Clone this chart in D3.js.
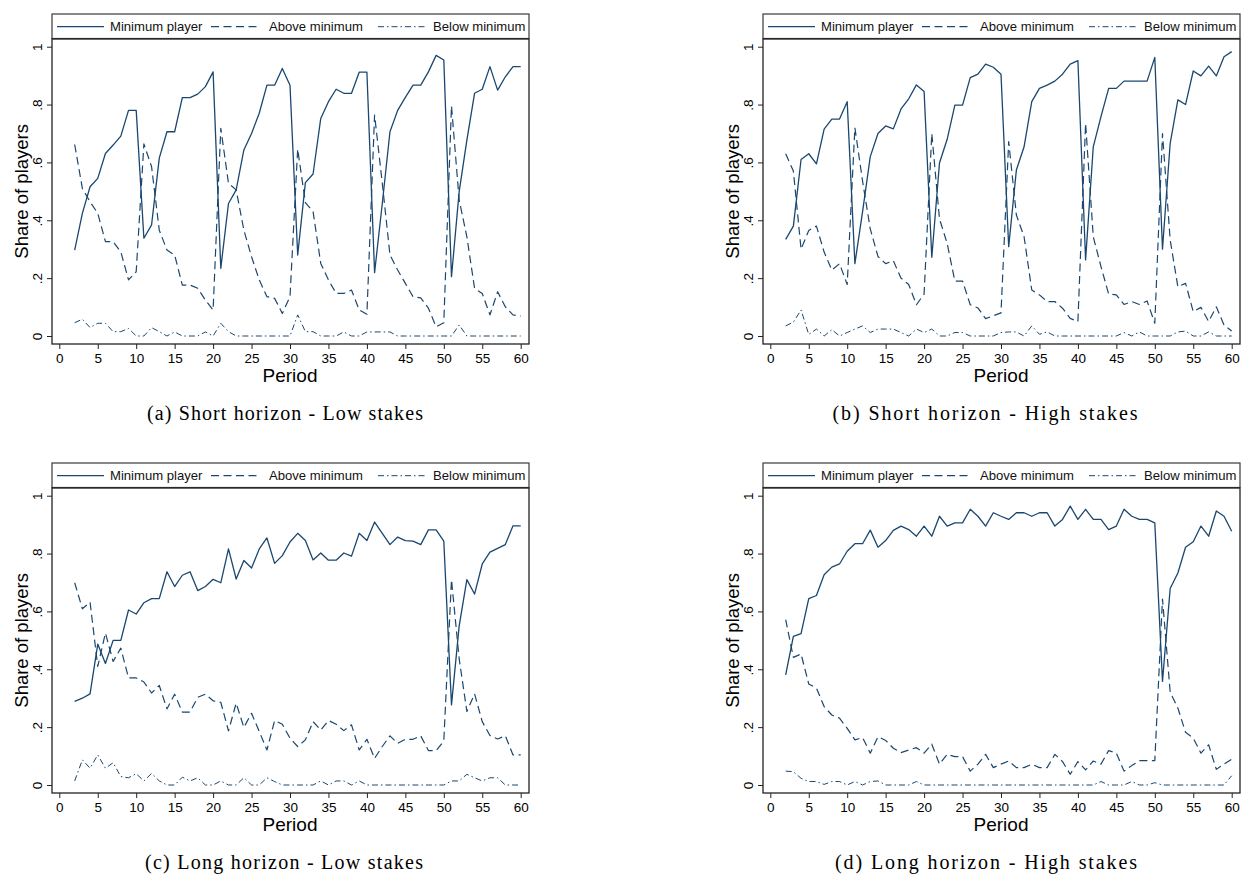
<!DOCTYPE html>
<html>
<head>
<meta charset="utf-8">
<script src="https://cdn.jsdelivr.net/npm/d3@7"></script>
<style>
  body { margin: 0; background: #fff; }
  .tick text { font-family: "Liberation Sans", Arial, sans-serif; font-size: 13.5px; fill: #000; }
  .axis-title { font-family: "Liberation Sans", Arial, sans-serif; fill: #000; }
  .legend-text { font-family: "Liberation Sans", Arial, sans-serif; font-size: 13.1px; fill: #111; }
  .caption { font-family: "Liberation Serif", "DejaVu Serif", serif; font-size: 20px; fill: #000; }
</style>
</head>
<body>
<div class="chart-div"></div>
<script>
// periods on the x axis
const periods = [2, 3, 4, 5, 6, 7, 8, 9, 10, 11, 12, 13, 14, 15, 16, 17, 18, 19, 20,
  21, 22, 23, 24, 25, 26, 27, 28, 29, 30, 31, 32, 33, 34, 35, 36, 37, 38, 39, 40,
  41, 42, 43, 44, 45, 46, 47, 48, 49, 50, 51, 52, 53, 54, 55, 56, 57, 58, 59, 60];

const xTicks = [0, 5, 10, 15, 20, 25, 30, 35, 40, 45, 50, 55, 60];
const yTicks = [0, 0.2, 0.4, 0.6, 0.8, 1];
const yTickLabels = ["0", ".2", ".4", ".6", ".8", "1"];
const seriesNames = ["Minimum player", "Above minimum", "Below minimum"];

// (a) short horizon - low stakes
const shortLowMin = [0.297, 0.424, 0.516, 0.545, 0.631, 0.660, 0.691, 0.780, 0.780,
  0.338, 0.384, 0.615, 0.706, 0.706, 0.824, 0.824, 0.836, 0.862, 0.913,
  0.234, 0.458, 0.505, 0.643, 0.700, 0.770, 0.867, 0.867, 0.925, 0.867,
  0.280, 0.530, 0.560, 0.752, 0.810, 0.853, 0.839, 0.839, 0.912, 0.912,
  0.219, 0.458, 0.706, 0.780, 0.825, 0.867, 0.867, 0.913, 0.970, 0.954,
  0.205, 0.499, 0.677, 0.839, 0.853, 0.931, 0.850, 0.896, 0.931, 0.931];
const shortLowAbove = [0.662, 0.510, 0.464, 0.424, 0.326, 0.326, 0.291, 0.194, 0.222,
  0.664, 0.585, 0.366, 0.297, 0.280, 0.176, 0.176, 0.165, 0.124, 0.090,
  0.718, 0.528, 0.505, 0.366, 0.274, 0.194, 0.136, 0.130, 0.078, 0.136,
  0.646, 0.461, 0.430, 0.251, 0.194, 0.147, 0.147, 0.159, 0.090, 0.075,
  0.764, 0.528, 0.280, 0.228, 0.182, 0.136, 0.132, 0.096, 0.032, 0.046,
  0.795, 0.470, 0.343, 0.165, 0.147, 0.073, 0.153, 0.101, 0.073, 0.069];
const shortLowBelow = [0.046, 0.058, 0.029, 0.044, 0.044, 0.015, 0.015, 0.026, 0.000,
  0.000, 0.029, 0.015, 0.000, 0.014, 0.000, 0.000, 0.000, 0.014, 0.000,
  0.044, 0.015, 0.000, 0.000, 0.000, 0.000, 0.000, 0.000, 0.000, 0.000,
  0.073, 0.015, 0.015, 0.000, 0.000, 0.000, 0.014, 0.000, 0.000, 0.014,
  0.014, 0.014, 0.014, 0.000, 0.000, 0.000, 0.000, 0.000, 0.000, 0.000,
  0.000, 0.038, 0.000, 0.000, 0.000, 0.000, 0.000, 0.000, 0.000, 0.000];

// (b) short horizon - high stakes
const shortHighMin = [0.334, 0.380, 0.610, 0.630, 0.595, 0.715, 0.750, 0.750, 0.810,
  0.250, 0.430, 0.620, 0.700, 0.726, 0.716, 0.785, 0.820, 0.868, 0.845,
  0.272, 0.598, 0.680, 0.798, 0.798, 0.893, 0.905, 0.940, 0.929, 0.905,
  0.309, 0.574, 0.654, 0.810, 0.856, 0.867, 0.881, 0.905, 0.940, 0.952,
  0.263, 0.654, 0.758, 0.856, 0.856, 0.881, 0.881, 0.881, 0.881, 0.963,
  0.300, 0.666, 0.816, 0.800, 0.916, 0.899, 0.933, 0.899, 0.965, 0.983];
const shortHighAbove = [0.630, 0.570, 0.300, 0.365, 0.380, 0.290, 0.228, 0.250, 0.178,
  0.720, 0.535, 0.370, 0.275, 0.250, 0.260, 0.200, 0.178, 0.108, 0.145,
  0.700, 0.405, 0.320, 0.190, 0.190, 0.108, 0.097, 0.060, 0.070, 0.080,
  0.672, 0.418, 0.343, 0.159, 0.142, 0.119, 0.119, 0.096, 0.061, 0.050,
  0.735, 0.343, 0.240, 0.145, 0.142, 0.109, 0.119, 0.109, 0.121, 0.044,
  0.700, 0.332, 0.170, 0.182, 0.084, 0.099, 0.050, 0.101, 0.038, 0.017];
const shortHighBelow = [0.035, 0.048, 0.090, 0.005, 0.024, 0.000, 0.022, 0.000, 0.012,
  0.024, 0.035, 0.012, 0.024, 0.024, 0.024, 0.012, 0.000, 0.024, 0.012,
  0.024, 0.000, 0.000, 0.012, 0.012, 0.000, 0.000, 0.000, 0.000, 0.012,
  0.014, 0.014, 0.000, 0.035, 0.006, 0.014, 0.000, 0.000, 0.000, 0.000,
  0.000, 0.000, 0.000, 0.000, 0.000, 0.012, 0.000, 0.014, 0.000, 0.000,
  0.000, 0.000, 0.014, 0.017, 0.000, 0.000, 0.014, 0.000, 0.000, 0.000];

// (c) long horizon - low stakes
const longLowMin = [0.289, 0.300, 0.315, 0.487, 0.420, 0.500, 0.500, 0.605, 0.591,
  0.630, 0.644, 0.644, 0.737, 0.686, 0.725, 0.737, 0.672, 0.686, 0.711,
  0.699, 0.816, 0.712, 0.776, 0.750, 0.816, 0.854, 0.766, 0.793, 0.840,
  0.870, 0.845, 0.778, 0.802, 0.777, 0.777, 0.802, 0.791, 0.870, 0.845,
  0.909, 0.870, 0.831, 0.857, 0.845, 0.843, 0.831, 0.882, 0.882, 0.843,
  0.277, 0.550, 0.710, 0.660, 0.764, 0.805, 0.818, 0.831, 0.896, 0.896];
const longLowAbove = [0.699, 0.609, 0.632, 0.410, 0.525, 0.427, 0.473, 0.370, 0.370,
  0.356, 0.318, 0.344, 0.263, 0.314, 0.252, 0.252, 0.303, 0.314, 0.291,
  0.286, 0.187, 0.283, 0.199, 0.248, 0.185, 0.121, 0.223, 0.210, 0.162,
  0.133, 0.156, 0.219, 0.190, 0.223, 0.210, 0.188, 0.208, 0.121, 0.158,
  0.092, 0.133, 0.170, 0.144, 0.158, 0.158, 0.170, 0.119, 0.119, 0.152,
  0.710, 0.436, 0.254, 0.315, 0.219, 0.171, 0.159, 0.170, 0.104, 0.104];
const longLowBelow = [0.014, 0.087, 0.058, 0.104, 0.058, 0.077, 0.029, 0.025, 0.039,
  0.014, 0.040, 0.014, 0.000, 0.000, 0.027, 0.014, 0.025, 0.000, 0.000,
  0.014, 0.000, 0.000, 0.025, 0.000, 0.000, 0.025, 0.012, 0.000, 0.000,
  0.000, 0.000, 0.000, 0.014, 0.000, 0.014, 0.014, 0.000, 0.014, 0.000,
  0.000, 0.000, 0.000, 0.000, 0.000, 0.000, 0.000, 0.000, 0.000, 0.000,
  0.014, 0.014, 0.037, 0.025, 0.014, 0.025, 0.025, 0.000, 0.000, 0.000];

// (d) long horizon - high stakes
const longHighMin = [0.381, 0.514, 0.523, 0.644, 0.655, 0.727, 0.753, 0.764, 0.808,
  0.834, 0.834, 0.881, 0.822, 0.845, 0.880, 0.895, 0.883, 0.860, 0.895,
  0.860, 0.929, 0.895, 0.906, 0.906, 0.953, 0.929, 0.895, 0.941, 0.929,
  0.918, 0.941, 0.941, 0.929, 0.941, 0.941, 0.895, 0.918, 0.964, 0.918,
  0.953, 0.918, 0.918, 0.883, 0.895, 0.953, 0.929, 0.918, 0.918, 0.906,
  0.358, 0.679, 0.733, 0.822, 0.841, 0.895, 0.860, 0.947, 0.929, 0.877];
const longHighAbove = [0.572, 0.441, 0.453, 0.349, 0.335, 0.271, 0.242, 0.231, 0.196,
  0.156, 0.164, 0.110, 0.167, 0.154, 0.127, 0.112, 0.121, 0.129, 0.110,
  0.141, 0.072, 0.106, 0.098, 0.098, 0.048, 0.072, 0.106, 0.060, 0.072,
  0.083, 0.060, 0.060, 0.072, 0.060, 0.060, 0.106, 0.081, 0.037, 0.081,
  0.052, 0.083, 0.072, 0.119, 0.110, 0.048, 0.067, 0.084, 0.084, 0.084,
  0.643, 0.321, 0.266, 0.182, 0.162, 0.110, 0.139, 0.054, 0.072, 0.089];
const longHighBelow = [0.048, 0.046, 0.023, 0.012, 0.012, 0.002, 0.012, 0.012, 0.000,
  0.012, 0.000, 0.012, 0.014, 0.000, 0.000, 0.000, 0.000, 0.012, 0.000,
  0.000, 0.000, 0.000, 0.000, 0.000, 0.000, 0.000, 0.000, 0.000, 0.000,
  0.000, 0.000, 0.000, 0.000, 0.000, 0.000, 0.000, 0.000, 0.000, 0.000,
  0.000, 0.000, 0.012, 0.000, 0.000, 0.000, 0.012, 0.000, 0.000, 0.008,
  0.000, 0.000, 0.000, 0.000, 0.000, 0.000, 0.000, 0.000, 0.000, 0.032];

const captions = [
  "(a) Short horizon - Low stakes",
  "(b) Short horizon - High stakes",
  "(c) Long horizon - Low stakes",
  "(d) Long horizon - High stakes"
];

// panel placement and look
const panels = [
  { dx: 0, dy: 0, capX: 285, capW: 276, series: [shortLowMin, shortLowAbove, shortLowBelow] },
  { dx: 711, dy: 0, capX: 985, capW: 305, series: [shortHighMin, shortHighAbove, shortHighBelow] },
  { dx: 0, dy: 449, capX: 284, capW: 278, series: [longLowMin, longLowAbove, longLowBelow] },
  { dx: 711, dy: 449, capX: 986, capW: 302, series: [longHighMin, longHighAbove, longHighBelow] }
];
const lineColor = "#1a476f";
const dashes = [null, "8,4.5", "6,3,1.5,3"];
const widths = [1.3, 1.2, 1];

const svg = d3
  .select(".chart-div")
  .append("svg")
  .attr("width", 1243)
  .attr("height", 875);

// local geometry of a panel
const plotLeft = 52, plotRight = 529, plotTop = 39, plotBottom = 344;
const legendTop = 14;

function drawPanel(p, k) {
  const g = svg.append("g").attr("transform", "translate(" + p.dx + "," + p.dy + ")");

  const x = d3.scaleLinear().domain([0, 60]).range([59.3, 520.7]);
  const y = d3.scaleLinear().domain([0, 1]).range([336, 46.7]);

  // legend box
  g.append("rect")
    .attr("x", plotLeft)
    .attr("y", legendTop)
    .attr("width", plotRight - plotLeft)
    .attr("height", plotTop - legendTop - 0.5)
    .attr("fill", "#fff")
    .attr("stroke", "#3a3a3a")
    .attr("stroke-width", 1.2);

  const sampleX = [57, 211, 378];
  const textX = [110, 269, 433];
  seriesNames.forEach((name, i) => {
    g.append("line")
      .attr("x1", sampleX[i])
      .attr("x2", sampleX[i] + 47)
      .attr("y1", 26.7)
      .attr("y2", 26.7)
      .attr("stroke", lineColor)
      .attr("stroke-width", widths[i])
      .attr("stroke-dasharray", dashes[i]);
    g.append("text")
      .attr("class", "legend-text")
      .attr("x", textX[i])
      .attr("y", 31)
      .text(name);
  });

  // plot frame
  g.append("rect")
    .attr("x", plotLeft)
    .attr("y", plotTop)
    .attr("width", plotRight - plotLeft)
    .attr("height", plotBottom - plotTop)
    .attr("fill", "none")
    .attr("stroke", "#222")
    .attr("stroke-width", 1.3);

  // x axis
  const xAxis = g.append("g")
    .attr("transform", "translate(0," + plotBottom + ")")
    .call(d3.axisBottom(x).tickValues(xTicks).tickSize(5).tickPadding(4.4));
  xAxis.select(".domain").remove();
  xAxis.selectAll(".tick line").attr("stroke", "#222");

  // y axis with rotated labels
  const yAxis = g.append("g")
    .attr("transform", "translate(" + plotLeft + ",0)")
    .call(d3.axisLeft(y).tickValues(yTicks).tickSize(5)
      .tickFormat((d, i) => yTickLabels[i]));
  yAxis.select(".domain").remove();
  yAxis.selectAll(".tick line").attr("stroke", "#222");
  yAxis.selectAll(".tick text")
    .attr("transform", "rotate(-90)")
    .attr("x", 0)
    .attr("y", -10)
    .attr("dy", 0)
    .attr("text-anchor", "middle");

  // axis titles
  g.append("text")
    .attr("class", "axis-title")
    .attr("x", x(30))
    .attr("y", 382)
    .attr("text-anchor", "middle")
    .attr("font-size", 19)
    .text("Period");
  g.append("text")
    .attr("class", "axis-title")
    .attr("transform", "translate(27.5," + y(0.5) + ") rotate(-90)")
    .attr("text-anchor", "middle")
    .attr("font-size", 18.5)
    .text("Share of players");

  // the three lines
  const line = d3.line()
    .x((d, i) => x(periods[i]))
    .y(d => y(d));
  p.series.forEach((vals, i) => {
    g.append("path")
      .datum(vals)
      .attr("fill", "none")
      .attr("stroke", lineColor)
      .attr("stroke-width", widths[i])
      .attr("stroke-dasharray", dashes[i])
      .attr("stroke-linejoin", "round")
      .attr("d", line);
  });

  // caption under the panel
  svg.append("text")
    .attr("class", "caption")
    .attr("x", p.capX)
    .attr("y", p.dy + 420)
    .attr("text-anchor", "middle")
    .attr("textLength", p.capW)
    .attr("lengthAdjust", "spacing")
    .text(captions[k]);
}

panels.forEach(drawPanel);
</script>
</body>
</html>
